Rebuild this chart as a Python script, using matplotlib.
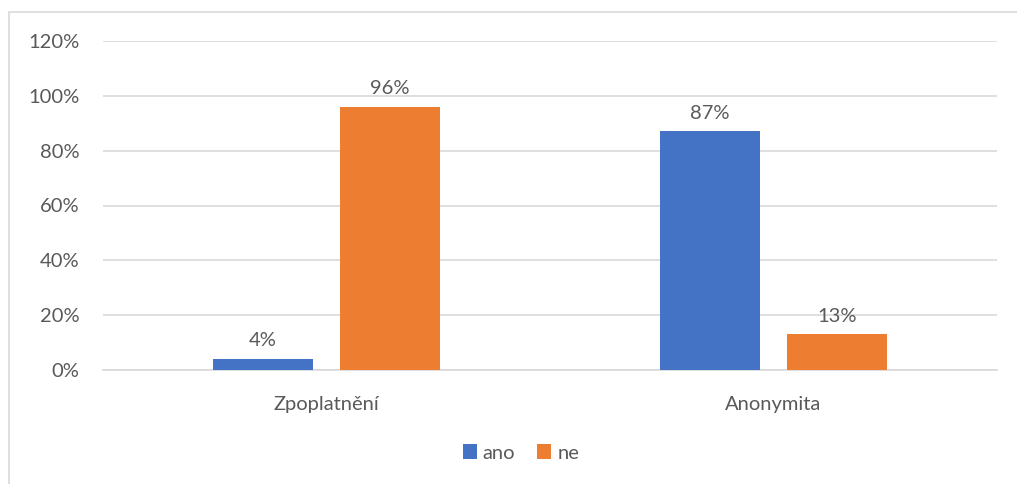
import numpy as np
import matplotlib.pyplot as plt
from matplotlib.patches import Rectangle

categories = ["Zpoplatnění", "Anonymita"]
ano = [4, 87]
ne = [96, 13]
series_names = ["ano", "ne"]
yticks = [0, 20, 40, 60, 80, 100, 120]

blue = "#4472C4"
orange = "#ED7D31"
text_col = "#595959"
grid_col = "#D9D9D9"

plt.rcParams['font.family'] = ['Lato', 'DejaVu Sans']

fig = plt.figure(figsize=(10.17, 4.84), dpi=100)
W, H = 1017, 484
fs = 14.5

# outer chart border (only left/top visible in the crop)
fig.patches.append(Rectangle((9 / W, -0.1), 1.2, (H - 12) / H + 0.1,
                             transform=fig.transFigure, fill=False,
                             edgecolor=grid_col, linewidth=1.2))

ax = fig.add_axes([103 / W, (H - 370) / H, 894 / W, 329 / H])

x = np.arange(len(categories))
w = 0.224
off = 0.142
b1 = ax.bar(x - off, ano, w, color=blue, label=series_names[0], zorder=3)
b2 = ax.bar(x + off, ne, w, color=orange, label=series_names[1], zorder=3)

for bars, vals in ((b1, ano), (b2, ne)):
    for rect, v in zip(bars, vals):
        ax.annotate(f"{v}%", (rect.get_x() + rect.get_width() / 2, v),
                    xytext=(0, 7), textcoords="offset points",
                    ha="center", va="bottom", fontsize=fs, color=text_col)

ax.set_xlim(-0.5, 1.5)
ax.set_ylim(0, 120)
ax.set_yticks(yticks)
ax.set_yticklabels([f"{t}%" for t in yticks])
ax.set_xticks(x)
ax.set_xticklabels(categories)
ax.tick_params(axis="both", length=0, labelsize=fs, colors=text_col)
ax.tick_params(axis="y", pad=17)
ax.tick_params(axis="x", pad=19)
ax.yaxis.grid(True, color=grid_col, linewidth=1.2, zorder=0)
ax.set_axisbelow(True)
for s in ("left", "right", "top"):
    ax.spines[s].set_visible(False)
ax.spines["bottom"].set_color(grid_col)
ax.spines["bottom"].set_linewidth(1.2)

leg = fig.legend(loc="center", bbox_to_anchor=(521 / W, (H - 453) / H),
                 ncol=2, frameon=False, fontsize=fs, handlelength=0.7,
                 handleheight=0.7, handletextpad=0.3, columnspacing=1.1)
for t in leg.get_texts():
    t.set_color(text_col)

fig.savefig("out.png", dpi=100)
